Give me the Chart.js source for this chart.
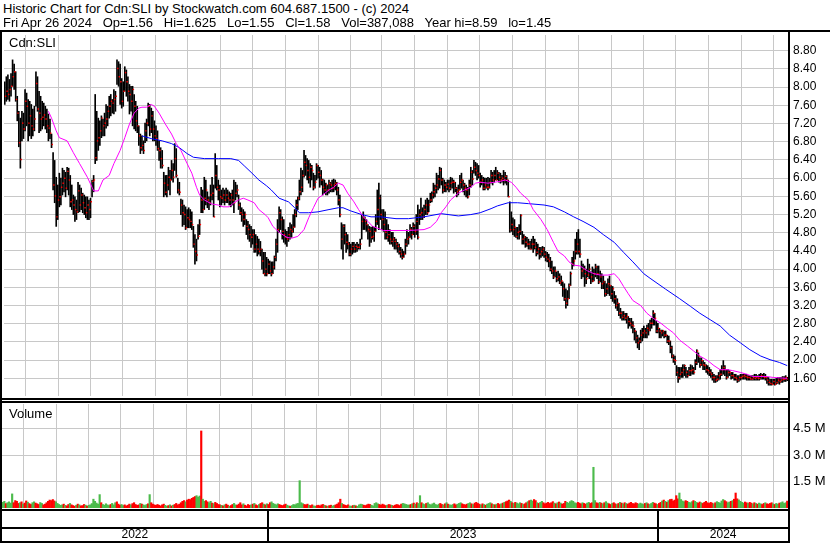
<!DOCTYPE html>
<html>
<head>
<meta charset="utf-8">
<title>Cdn:SLI historic chart</title>
<script src="https://cdn.jsdelivr.net/npm/chart.js@4.4.1/dist/chart.umd.min.js"></script>
<style>
  body { margin: 0; background: #fff; }
  #page { position: relative; width: 830px; height: 543px; overflow: hidden; font-family: "Liberation Sans", Arial, sans-serif; color: #000; }
  .txt { position: absolute; font-size: 13px; line-height: 15px; white-space: pre; z-index: 6; }
  .rule { position: absolute; background: #000; z-index: 5; }
  canvas { position: absolute; left: 0; }
</style>
</head>
<body>
<div id="page">
  <div class="txt" style="left:3px;top:1px">Historic Chart for Cdn:SLI by Stockwatch.com 604.687.1500 - (c) 2024</div>
  <div class="txt" style="left:3px;top:15px">Fri Apr 26 2024   Op=1.56   Hi=1.625   Lo=1.55   Cl=1.58   Vol=387,088   Year hi=8.59   lo=1.45</div>
  <canvas id="priceChart" width="830" height="369" style="top:31px"></canvas>
  <canvas id="volChart" width="830" height="140" style="top:403px"></canvas>
  <div class="txt" style="left:9px;top:35px">Cdn:SLI</div>
  <div class="txt" style="left:9px;top:406px">Volume</div>
  <div class="rule" style="left:0;top:30px;width:830px;height:2px"></div>
  <div class="rule" style="left:0;top:30px;width:2px;height:513px"></div>
  <div class="rule" style="left:788px;top:30px;width:2px;height:513px"></div>
  <div class="rule" style="left:0;top:398px;width:790px;height:2px"></div>
  <div class="rule" style="left:0;top:401px;width:790px;height:2px"></div>
</div>
<script>
// daily bars, late Apr 2022 -> Apr 26 2024
const highs = [
  8.12,8.23,8.27,8.17,8.30,8.60,8.51,8.34,7.80,7.47, 7.32,7.47,7.43,7.95,7.87,7.73,7.69,7.62,7.52,7.58,
  8.34,8.23,7.91,7.80,7.69,7.65,7.58,7.52,7.41,7.30, 6.97,6.56,6.39,6.02,5.85,6.11,6.00,6.22,6.17,6.13,
  6.24,6.22,6.06,5.85,5.63,5.59,5.52,5.91,5.85,5.78, 5.67,5.63,5.59,5.59,5.52,5.56,5.96,6.06,7.84,7.47,
  7.32,7.26,7.37,7.30,7.43,7.62,7.58,7.80,7.84,7.73, 7.95,7.91,8.60,8.56,8.51,8.19,8.12,8.45,8.38,8.23,
  8.06,8.02,8.02,7.84,7.69,7.58,7.15,6.97,6.93,6.82, 7.21,7.30,7.65,7.62,7.54,7.47,7.26,7.15,7.04,6.82,
  6.67,6.61,6.13,6.06,6.06,6.24,6.17,6.39,6.32,6.76, 6.65,6.00,5.91,5.54,5.52,5.41,5.37,5.31,5.35,5.31,
  5.26,4.94,4.76,4.66,4.98,5.09,5.80,5.74,6.02,5.96, 5.70,5.59,5.85,6.02,5.85,6.54,6.28,5.96,5.85,5.74,
  5.78,5.74,5.78,5.74,5.70,5.67,5.74,5.96,5.91,5.85, 5.63,5.46,5.35,5.31,5.26,5.09,5.05,4.98,4.94,4.87,
  4.87,4.76,4.72,4.66,4.61,4.44,4.37,4.37,4.26,4.22, 4.18,4.16,4.16,4.29,4.66,5.09,5.37,5.31,5.15,5.09,
  4.87,4.83,4.92,5.02,4.98,5.20,5.31,5.52,5.59,5.96, 6.22,6.17,6.61,6.50,6.43,6.39,6.32,6.28,6.11,6.06,
  6.32,6.28,6.24,6.17,5.98,5.96,5.89,5.85,5.96,5.91, 5.96,5.98,5.96,5.91,5.80,5.63,5.02,4.98,4.98,4.81,
  4.76,4.59,4.55,4.59,4.59,4.55,4.59,4.55,4.66,5.20, 5.26,5.15,5.09,4.98,4.94,4.92,4.94,4.92,5.20,5.74,
  5.89,5.63,5.31,5.31,5.26,5.09,4.98,4.87,4.81,4.81, 4.70,4.66,4.59,4.55,4.48,4.44,4.39,4.66,4.87,4.81,
  4.98,4.92,5.02,4.98,5.20,5.41,5.31,5.56,5.35,5.41, 5.52,5.56,5.52,5.67,5.70,5.89,5.85,6.11,6.06,6.24,
  6.22,6.00,5.96,5.91,5.96,5.96,6.02,6.00,5.96,5.91, 5.80,5.85,6.06,6.11,5.96,5.89,5.85,5.80,5.96,6.24,
  6.17,6.39,6.35,6.32,6.28,6.11,6.06,6.02,6.00,6.00, 6.02,6.00,6.17,6.13,6.17,6.24,6.17,6.13,6.11,6.06,
  6.17,6.13,6.06,5.96,5.48,5.26,5.13,5.09,4.92,4.92, 4.98,5.20,4.83,4.76,4.72,4.70,4.66,4.61,4.66,4.72,
  4.66,4.59,4.55,4.48,4.48,4.50,4.48,4.39,4.37,4.33, 4.26,4.18,4.05,4.05,3.94,3.96,3.90,3.85,3.72,3.68,
  3.57,3.53,3.68,3.94,4.26,4.39,4.66,4.81,4.87,4.66, 4.18,4.11,4.07,4.00,4.22,4.11,3.94,4.05,4.00,4.11,
  4.07,4.07,3.96,3.90,3.85,3.74,3.68,3.79,3.85,3.64, 3.62,3.51,3.42,3.35,3.25,3.14,3.07,3.07,3.03,3.03,
  2.96,2.92,2.92,2.85,2.70,2.64,2.55,2.49,2.66,2.70, 2.75,2.70,2.77,2.81,2.88,2.92,3.09,3.03,2.85,2.81,
  2.70,2.66,2.66,2.64,2.64,2.55,2.53,2.42,2.31,2.12, 2.09,1.88,1.84,1.84,1.84,1.90,1.90,1.84,1.77,1.84,
  1.90,1.88,1.84,2.01,2.23,2.16,2.05,2.05,1.99,1.95, 1.90,1.88,1.84,1.79,1.73,1.69,1.66,1.66,1.73,1.79,
  1.88,1.99,1.88,1.79,1.79,1.77,1.73,1.73,1.69,1.69, 1.66,1.66,1.69,1.69,1.69,1.69,1.69,1.66,1.66,1.66,
  1.66,1.69,1.69,1.66,1.69,1.71,1.69,1.71,1.69,1.62, 1.62,1.58,1.58,1.58,1.58,1.60,1.62,1.62,1.62,1.64,
  1.64,1.66,1.625
];
const lows = [
  7.62,7.69,7.73,7.69,7.80,8.02,7.95,7.69,7.26,6.69, 6.22,6.82,6.87,7.04,7.15,6.82,6.93,6.87,6.93,7.04,
  7.58,7.47,7.00,7.04,7.08,7.15,7.08,7.00,6.82,6.87, 6.67,5.74,5.46,4.94,5.09,5.37,5.41,5.63,5.70,5.59,
  5.74,5.63,5.37,5.31,5.20,5.05,5.09,5.24,5.26,5.31, 5.24,5.20,5.13,5.09,5.09,5.13,5.59,5.70,6.32,6.39,
  6.61,6.72,6.89,6.93,6.93,7.10,7.15,7.32,7.37,7.43, 7.41,7.47,8.06,8.02,7.62,7.54,7.58,7.91,7.80,7.69,
  7.41,7.47,7.15,7.08,7.04,7.00,6.72,6.54,6.61,6.54, 6.78,6.82,7.15,6.93,7.00,6.82,6.82,6.72,6.61,6.39,
  6.22,6.22,5.59,5.63,5.59,5.74,5.63,5.96,5.91,6.17, 6.02,5.67,5.63,5.20,4.94,4.98,4.87,4.91,4.91,4.91,
  4.87,4.48,4.11,4.18,4.66,4.76,5.24,5.24,5.31,5.41, 5.35,5.31,5.41,5.52,5.15,5.78,5.74,5.52,5.37,5.41,
  5.46,5.41,5.46,5.46,5.41,5.37,5.41,5.24,5.52,5.59, 5.31,5.20,5.05,4.94,4.98,4.76,4.66,4.61,4.48,4.55,
  4.37,4.37,4.29,4.33,4.29,4.00,3.90,3.85,3.85,3.90, 3.90,3.85,3.90,4.00,4.18,4.37,4.81,4.87,4.66,4.59,
  4.55,4.50,4.61,4.66,4.70,4.81,4.92,5.15,5.31,5.52, 5.63,5.70,6.02,6.06,5.96,5.89,5.80,5.96,5.74,5.78,
  5.96,6.00,5.80,5.85,5.63,5.67,5.63,5.63,5.67,5.70, 5.70,5.70,5.74,5.63,5.41,5.15,4.44,4.22,4.55,4.37,
  4.44,4.29,4.29,4.33,4.37,4.37,4.39,4.44,4.44,4.66, 4.87,4.87,4.83,4.66,4.50,4.59,4.66,4.61,4.83,4.98,
  4.87,5.09,4.87,4.83,4.66,4.66,4.61,4.55,4.55,4.50, 4.44,4.44,4.37,4.33,4.26,4.22,4.26,4.33,4.50,4.55,
  4.70,4.66,4.76,4.70,4.76,4.66,4.98,5.09,5.09,5.13, 5.20,5.20,5.26,5.46,5.48,5.56,5.59,5.67,5.74,5.78,
  5.85,5.67,5.70,5.70,5.74,5.70,5.74,5.78,5.67,5.70, 5.59,5.63,5.74,5.78,5.70,5.63,5.59,5.56,5.63,5.80,
  5.85,6.11,6.06,5.96,6.00,5.80,5.85,5.74,5.74,5.78, 5.74,5.78,5.89,5.85,5.91,5.96,5.96,5.91,5.89,5.91,
  5.85,5.89,5.85,5.59,4.81,4.83,4.76,4.72,4.70,4.66, 4.66,4.76,4.55,4.55,4.48,4.50,4.44,4.44,4.44,4.37,
  4.44,4.29,4.33,4.22,4.26,4.29,4.26,4.18,4.16,4.05, 3.96,3.90,3.79,3.83,3.72,3.74,3.68,3.64,3.40,3.31,
  3.14,3.20,3.35,3.64,4.00,4.07,4.22,4.33,4.33,4.26, 3.79,3.83,3.62,3.68,3.83,3.79,3.68,3.72,3.74,3.83,
  3.79,3.68,3.72,3.57,3.57,3.40,3.42,3.46,3.42,3.35, 3.29,3.25,3.14,3.09,2.98,2.92,2.88,2.88,2.88,2.81,
  2.70,2.75,2.70,2.60,2.44,2.38,2.27,2.23,2.38,2.42, 2.49,2.49,2.49,2.55,2.64,2.70,2.77,2.77,2.60,2.60,
  2.49,2.49,2.53,2.49,2.51,2.38,2.34,2.16,2.05,1.95, 1.90,1.66,1.51,1.58,1.62,1.62,1.66,1.62,1.62,1.66,
  1.66,1.69,1.69,1.79,1.90,1.95,1.84,1.88,1.79,1.79, 1.73,1.69,1.66,1.62,1.56,1.51,1.51,1.53,1.56,1.58,
  1.66,1.69,1.66,1.58,1.62,1.66,1.58,1.60,1.56,1.56, 1.51,1.53,1.56,1.58,1.58,1.58,1.56,1.56,1.56,1.56,
  1.56,1.56,1.56,1.56,1.56,1.58,1.58,1.58,1.56,1.49, 1.45,1.45,1.45,1.47,1.45,1.47,1.49,1.47,1.51,1.51,
  1.53,1.53,1.55
];
const closes = [
  7.80,7.91,7.84,7.95,8.02,8.23,8.34,7.73,7.43,6.78, 6.41,7.21,7.08,7.69,7.58,7.21,7.37,7.15,7.08,7.30,
  8.08,7.52,7.43,7.30,7.34,7.39,7.30,7.15,7.10,6.99, 6.74,5.85,5.61,5.15,5.52,5.59,5.80,5.89,6.00,5.78,
  6.15,5.96,5.48,5.52,5.41,5.31,5.26,5.72,5.41,5.63, 5.46,5.35,5.24,5.41,5.31,5.48,5.93,5.96,6.45,6.82,
  6.89,7.04,7.32,7.15,7.21,7.30,7.47,7.58,7.69,7.65, 7.73,7.80,8.41,8.23,8.12,7.69,7.91,8.32,8.12,7.91,
  7.84,7.69,7.95,7.58,7.26,7.15,6.93,6.67,6.72,6.61, 7.04,7.21,7.58,7.08,7.37,7.08,6.93,6.87,6.65,6.61,
  6.43,6.28,5.89,5.69,5.85,6.02,5.96,6.17,6.02,6.43, 6.06,5.74,5.69,5.41,5.24,5.20,4.91,5.13,5.09,5.05,
  4.98,4.55,4.39,4.31,4.72,4.98,5.52,5.31,5.56,5.74, 5.52,5.46,5.63,5.67,5.15,6.06,5.80,5.74,5.59,5.56,
  5.63,5.52,5.63,5.56,5.52,5.63,5.52,5.46,5.67,5.74, 5.41,5.24,5.20,5.09,5.20,4.94,4.87,4.76,4.70,4.76,
  4.44,4.55,4.44,4.39,4.44,4.18,3.90,4.00,3.90,4.11, 3.96,3.90,4.05,4.26,4.55,4.87,5.24,5.09,4.83,4.76,
  4.70,4.66,4.76,4.87,4.83,4.92,5.20,5.41,5.56,5.70, 5.80,6.06,6.35,6.28,6.17,6.02,6.24,6.17,5.80,5.91,
  6.28,6.13,6.06,5.96,5.80,5.74,5.85,5.74,5.89,5.85, 5.78,5.85,5.89,5.74,5.52,5.20,4.66,4.94,4.76,4.59,
  4.55,4.33,4.44,4.50,4.44,4.50,4.48,4.48,4.55,5.05, 5.13,5.05,4.98,4.87,4.83,4.70,4.72,4.83,5.05,5.31,
  5.56,5.20,5.09,4.98,4.81,4.70,4.76,4.66,4.61,4.66, 4.61,4.55,4.50,4.39,4.33,4.26,4.33,4.55,4.66,4.70,
  4.87,4.76,4.94,4.83,5.05,4.70,5.20,5.24,5.15,5.31, 5.41,5.24,5.41,5.52,5.63,5.70,5.78,5.85,5.98,6.17,
  5.96,5.74,5.85,5.80,5.87,5.78,5.89,5.91,5.91,5.78, 5.70,5.74,5.91,5.96,5.85,5.78,5.74,5.59,5.85,6.13,
  5.98,6.24,6.17,6.11,6.06,5.91,5.96,5.78,5.85,5.80, 5.80,5.91,6.06,5.96,6.06,5.96,6.11,6.02,5.96,6.00,
  5.96,6.04,5.96,5.59,4.87,4.98,4.87,4.92,4.72,4.81, 4.83,5.18,4.66,4.70,4.59,4.55,4.55,4.44,4.55,4.55,
  4.48,4.37,4.44,4.33,4.39,4.44,4.33,4.26,4.22,4.18, 4.00,3.96,3.83,3.96,3.79,3.83,3.70,3.74,3.57,3.35,
  3.25,3.35,3.64,3.90,4.11,4.18,4.39,4.55,4.39,4.33, 3.96,4.00,3.90,3.79,3.87,4.00,3.83,3.74,3.90,4.05,
  3.90,3.72,3.83,3.68,3.72,3.46,3.57,3.68,3.64,3.46, 3.57,3.35,3.20,3.25,3.03,3.03,2.94,2.98,2.92,2.96,
  2.85,2.81,2.77,2.75,2.64,2.49,2.38,2.42,2.55,2.60, 2.64,2.60,2.70,2.66,2.81,2.81,3.03,2.92,2.64,2.70,
  2.64,2.60,2.64,2.55,2.55,2.42,2.42,2.27,2.09,2.01, 1.99,1.73,1.62,1.69,1.73,1.79,1.88,1.73,1.66,1.77,
  1.77,1.79,1.73,1.95,2.20,2.09,1.90,1.99,1.90,1.88, 1.79,1.77,1.73,1.69,1.62,1.62,1.56,1.58,1.66,1.69,
  1.79,1.84,1.79,1.62,1.73,1.73,1.66,1.66,1.62,1.60, 1.56,1.62,1.62,1.64,1.66,1.64,1.62,1.62,1.60,1.58,
  1.62,1.60,1.62,1.60,1.60,1.66,1.64,1.62,1.62,1.56, 1.51,1.49,1.47,1.53,1.47,1.51,1.56,1.53,1.56,1.58,
  1.58,1.62,1.58
];
// volume in thousands of shares
const volumesK = [
  320,380,250,300,350,280,800,300,420,380, 260,300,350,220,280,400,330,250,200,300,
  350,280,240,200,310,260,180,220,300,380, 450,420,480,400,350,260,200,150,180,220,
  150,120,200,260,180,140,100,160,220,180, 120,140,200,160,110,150,180,250,500,380,
  280,220,760,300,200,160,240,180,140,200, 260,180,300,350,220,160,200,140,180,120,
  160,220,180,250,300,200,150,180,260,220, 180,140,200,240,760,300,220,180,150,200,
  160,120,180,220,150,100,140,180,120,160, 200,260,180,220,300,380,420,350,450,500,
  480,550,600,650,700,620,680,4370,500,380, 420,350,300,380,280,250,320,260,200,180,
  150,120,180,220,160,100,140,200,260,180, 160,220,300,180,240,160,120,200,150,180,
  220,260,180,140,200,260,300,220,180,240, 200,300,350,260,220,180,240,200,160,140,
  180,220,160,120,100,140,200,180,240,260, 1550,300,250,200,180,220,160,140,180,120,
  100,140,160,120,180,200,150,120,100,140, 160,120,140,180,220,300,500,260,200,160,
  140,180,120,100,140,160,120,100,180,220, 200,160,140,180,220,200,160,120,260,300,
  240,200,160,220,180,140,160,200,180,150, 120,160,200,180,140,220,260,240,200,180,
  160,200,240,280,220,300,260,700,300,240, 200,260,300,220,180,240,280,200,160,220,
  260,200,180,240,300,220,180,160,200,240, 180,220,260,300,240,200,180,220,260,300,
  240,200,280,320,260,220,180,240,200,160, 220,260,300,240,200,180,220,260,200,240,
  280,320,360,400,450,380,300,260,320,280, 240,300,260,200,240,300,360,420,450,400,
  480,420,300,260,320,380,300,240,280,320, 260,300,360,280,240,300,340,280,220,260,
  380,320,280,360,420,380,300,260,320,280, 240,300,260,220,280,320,260,300,2310,420,
  300,260,320,280,240,300,360,280,240,200, 260,300,240,200,260,320,280,240,300,260,
  220,280,320,260,240,300,260,220,280,240, 200,260,300,240,200,260,320,280,240,200,
  260,320,400,450,380,320,420,480,500,400, 450,700,520,850,480,400,360,420,380,320,
  300,360,420,380,320,280,340,300,260,320, 380,300,260,320,280,240,300,360,320,280,
  400,480,420,360,300,340,380,420,500,850, 520,460,380,320,280,340,300,260,320,280,
  240,300,260,220,280,240,200,260,300,240, 220,260,300,240,200,260,220,280,300,350,
  260,300,387
];
// moving averages (bar index, value)
const maFastIdx = [28,30,33,35,40,44,48,53,56,57,60,63,67,70,74,77,80,83,86,88,91,94,96,99,103,107,110,113,117,120,
  123,125,128,133,137,140,144,147,150,153,156,160,163,167,169,172,176,181,184,188,192,195,198,201,204,208,211,214,217,220,
  224,227,230,233,236,240,243,251,259,269,273,277,280,283,286,291,295,299,302,305,310,314,318,321,325,328,331,336,339,344,
  348,352,355,359,362,365,369,374,378,382,387,391,394,397,400,403,408,412,416,421,425,429,433,438,442,446,451,455,459,464,
  467,472,476,480,489,493,502];
const maFastVal = [7.47,7.32,7.04,6.89,6.82,6.56,6.32,6.02,5.80,5.72,5.72,5.96,6.06,6.32,6.61,6.89,7.19,7.43,7.54,7.56,
  7.56,7.62,7.58,7.43,7.19,6.97,6.76,6.61,6.32,6.11,5.80,5.63,5.52,5.43,5.41,5.37,5.37,5.46,5.52,5.56,
  5.52,5.46,5.31,5.20,5.13,4.94,4.81,4.70,4.68,4.72,4.87,5.13,5.35,5.56,5.63,5.74,5.80,5.89,5.85,5.67,
  5.48,5.31,5.15,5.05,4.94,4.89,4.85,4.85,4.85,4.87,4.92,5.05,5.24,5.37,5.52,5.67,5.74,5.80,5.89,5.91,
  5.89,5.91,5.93,5.96,5.91,5.80,5.67,5.52,5.31,5.09,4.87,4.59,4.39,4.29,4.16,4.09,4.07,3.96,3.90,3.87,
  3.87,3.90,3.79,3.62,3.46,3.31,3.20,3.03,2.92,2.81,2.70,2.60,2.44,2.31,2.20,2.09,1.99,1.88,1.79,1.79,
  1.77,1.73,1.69,1.64,1.64,1.62,1.60];
const maSlowIdx = [88,94,101,107,112,117,121,128,137,145,150,154,158,163,168,171,176,182,186,189,
  195,201,208,214,217,222,229,235,241,251,259,269,280,291,299,305,312,316,323,329,
  336,346,352,359,365,371,378,384,391,397,403,410,414,424,433,440,446,453,459,465,
  472,478,485,491,497,502];
const maSlowVal = [6.93,6.87,6.82,6.76,6.67,6.54,6.46,6.43,6.43,6.43,6.39,6.26,6.13,5.96,5.83,5.74,5.56,5.48,5.35,5.24,
  5.24,5.26,5.31,5.35,5.35,5.28,5.20,5.15,5.15,5.11,5.11,5.15,5.22,5.17,5.20,5.24,5.33,5.39,5.46,5.46,
  5.44,5.41,5.37,5.26,5.15,5.05,4.92,4.76,4.59,4.37,4.16,3.90,3.80,3.56,3.35,3.18,3.03,2.88,2.75,2.55,
  2.38,2.23,2.09,2.01,1.95,1.88];

const priceTicks = [1.60,2.00,2.40,2.80,3.20,3.60,4.00,4.40,4.80,5.20,5.60,6.00,6.40,6.80,7.20,7.60,8.00,8.40,8.80];
const volumeTicks = [1500000, 3000000, 4500000];
// first trading day of each month, Jun 2022 .. Apr 2024
const monthStarts = [24,45,65,86,107,128,149,169,191,211,232,252,274,294,315,337,357,379,400,420,441,462,483];
const yearStarts = [170, 420];
const yearLabels = ['2022', '2023', '2024'];

Chart.defaults.font.family = '"Liberation Sans", Arial, sans-serif';
Chart.defaults.color = '#000';

const N = closes.length;
const gridColor = '#c8c8c8';
const closeTickShift = 0.5; // close tick drawn on the right side of each bar

function xAxis() {
    return {
        type: 'linear',
        min: -0.5,
        max: N - 0.5,
        offset: false,
        afterBuildTicks: function (s) { s.ticks = monthStarts.map(function (v) { return { value: v }; }); },
        afterFit: function (s) { s.height = 0; s.paddingLeft = 0; s.paddingRight = 0; },
        ticks: { display: false },
        grid: { color: gridColor, drawTicks: false },
        border: { display: false }
    };
}

// price panel
var priceBars = highs.map(function (h, i) { return { x: i, y: [lows[i], h] }; });
var closeDots = closes.map(function (c, i) { return { x: i + closeTickShift, y: c }; });
var fastLine = maFastIdx.map(function (d, k) { return { x: d, y: maFastVal[k] }; });
var slowLine = maSlowIdx.map(function (d, k) { return { x: d, y: maSlowVal[k] }; });

new Chart(document.getElementById('priceChart'), {
    type: 'bar',
    data: {
        datasets: [
            { type: 'bar', data: priceBars, backgroundColor: '#000', barThickness: 1, order: 3 },
            { type: 'line', data: closeDots, showLine: false, pointStyle: 'rect', pointRadius: 1.0,
              pointBackgroundColor: '#ff0000', pointBorderWidth: 0, order: 2 },
            { type: 'line', data: fastLine, borderColor: '#ff00ff', borderWidth: 1, pointRadius: 0, tension: 0, order: 1 },
            { type: 'line', data: slowLine, borderColor: '#0000ff', borderWidth: 1, pointRadius: 0, tension: 0, order: 1 }
        ]
    },
    options: {
        responsive: false,
        animation: false,
        devicePixelRatio: 1,
        events: [],
        layout: { padding: { left: 2, top: 2, right: 0, bottom: 1 } },
        plugins: { legend: { display: false }, tooltip: { enabled: false } },
        scales: {
            x: xAxis(),
            y: {
                position: 'right',
                min: 1.212,
                max: 9.147,
                afterBuildTicks: function (s) { s.ticks = priceTicks.map(function (v) { return { value: v }; }); },
                afterFit: function (s) { s.width = 42; s.paddingTop = 0; s.paddingBottom = 0; },
                ticks: { autoSkip: false, padding: 5, font: { size: 12 }, color: '#000',
                         callback: function (v) { return v.toFixed(2); } },
                grid: { color: gridColor, drawTicks: false },
                border: { display: false }
            }
        }
    }
});

// volume panel + year axis underneath
var yearAxis = {
    id: 'yearAxis',
    afterDraw: function (chart) {
        var ctx = chart.ctx, xs = chart.scales.x, area = chart.chartArea;
        var top = area.bottom + 1;
        var right = area.right + 2;
        ctx.save();
        ctx.fillStyle = '#000';
        ctx.fillRect(0, top, right, 2);
        ctx.fillRect(0, top + 18, right, 2);
        ctx.fillRect(0, chart.height - 2, right, 2);
        var edges = [area.left];
        yearStarts.forEach(function (d) { edges.push(xs.getPixelForValue(d - 0.5)); });
        edges.push(area.right);
        for (var k = 1; k < edges.length - 1; k++) {
            ctx.fillRect(Math.round(edges[k]) - 1, top, 2, chart.height - top);
        }
        ctx.font = '12px "Liberation Sans", Arial, sans-serif';
        ctx.textAlign = 'center';
        ctx.textBaseline = 'middle';
        yearLabels.forEach(function (t, k) { ctx.fillText(t, (edges[k] + edges[k + 1]) / 2, top + 26); });
        ctx.restore();
    }
};

var volBars = volumesK.map(function (v, i) { return { x: i, y: v * 1000 }; });
var volColors = closes.map(function (c, i) { return (i === 0 || c >= closes[i - 1]) ? '#4cbb4c' : '#ff0000'; });

new Chart(document.getElementById('volChart'), {
    type: 'bar',
    data: {
        datasets: [{ data: volBars, backgroundColor: volColors, barThickness: 1.5 }]
    },
    options: {
        responsive: false,
        animation: false,
        devicePixelRatio: 1,
        events: [],
        layout: { padding: { left: 2, top: 1, right: 0, bottom: 35 } },
        plugins: { legend: { display: false }, tooltip: { enabled: false } },
        scales: {
            x: xAxis(),
            y: {
                position: 'right',
                min: 0,
                max: 5900000,
                afterBuildTicks: function (s) { s.ticks = volumeTicks.map(function (v) { return { value: v }; }); },
                afterFit: function (s) { s.width = 42; s.paddingTop = 0; s.paddingBottom = 0; },
                ticks: { autoSkip: false, padding: 5, font: { size: 13 }, color: '#000',
                         callback: function (v) { return (v / 1000000).toFixed(1) + ' M'; } },
                grid: { color: gridColor, drawTicks: false },
                border: { display: false }
            }
        }
    },
    plugins: [yearAxis]
});
</script>
</body>
</html>
